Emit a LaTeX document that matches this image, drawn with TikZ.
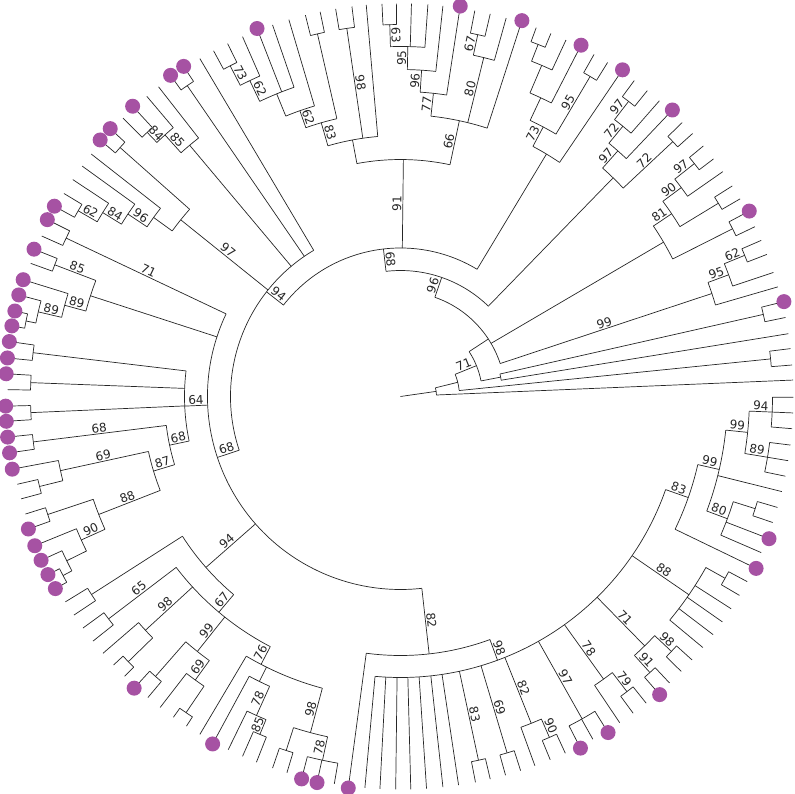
\documentclass[tikz,border=0pt]{standalone}
\usepackage{fontspec}
\setmainfont{DejaVu Sans}
\definecolor{tipdot}{HTML}{A652A3}
\newcommand{\tipr}{393}
% radial branch: angle, from r, to r
\newcommand{\rad}[3]{\draw (#1:#2pt) -- (#1:#3pt);}
% node arc: r, from angle, to angle
\newcommand{\arcr}[3]{\draw (#2:#1pt) arc[start angle=#2,end angle=#3,radius=#1pt];}
% leaf, leaf with dot
\newcommand{\lfs}[2]{\draw (#1:#2pt) -- (#1:\tipr pt);}
\newcommand{\lfp}[2]{\draw (#1:#2pt) -- (#1:\tipr pt); \fill[tipdot] (#1:395pt) circle (7.5pt);}
% branch with support value
\newcommand{\bsv}[4]{\rad{#1}{#2}{#3}
  \pgfmathsetmacro\bsrot{(#1>90 && #1<270) ? #1-180 : #1}
  \pgfmathsetmacro\bsmid{(#2+#3)/2}
  \node[bslabel,rotate=\bsrot] at (#1:\bsmid pt) {#4};}
\tikzset{bslabel/.style={anchor=south,inner sep=1pt,font=\fontsize{12}{12}\selectfont}}

\begin{document}
\begin{tikzpicture}[line width=0.7pt,color=black!85]
\useasboundingbox (-400.5pt,-396.5pt) rectangle (394.5pt,396.5pt);
% root and outgroup
\rad{8.2}{0}{36}
\arcr{36}{2.4}{13.95}
\lfs{2.4}{36}
\rad{13.95}{36}{59}
\arcr{59}{5.8}{22.1}
\rad{5.8}{59}{372}
\arcr{372}{4.6}{7.0}
\lfs{4.6}{372} \lfs{7.0}{372}
\bsv{22.1}{59}{82}{71}
\arcr{82}{10.95}{33.2}
\rad{10.95}{82}{102}
\arcr{102}{9.2}{12.75}
\lfs{9.2}{102}
\rad{12.75}{102}{372}
\arcr{372}{11.6}{13.9}
\lfs{11.6}{372} \lfp{13.9}{372}
\rad{33.2}{82}{105}
\arcr{105}{18.3}{70.9}
% 99
\bsv{18.3}{105}{328}{99}
\arcr{328}{16.2}{20.35}
\lfs{16.2}{328}
\bsv{20.35}{328}{350}{95}
\arcr{350}{18.4}{22.3}
\lfs{18.4}{350}
\bsv{22.3}{350}{372}{62}
\arcr{372}{21.2}{23.4}
\lfs{21.2}{372} \lfs{23.4}{372}
% 81
\rad{30.4}{105}{305}
\arcr{305}{26.8}{33.98}
\rad{26.8}{305}{372}
\arcr{372}{25.6}{28.0}
\lfs{25.6}{372} \lfp{28.0}{372}
\bsv{33.98}{305}{327}{81}
\arcr{327}{31.3}{36.65}
\rad{31.3}{327}{372}
\arcr{372}{30.2}{32.4}
\lfs{30.2}{372} \lfs{32.4}{372}
\bsv{36.65}{327}{350}{90}
\arcr{350}{34.9}{38.4}
\lfs{34.9}{350}
\bsv{38.4}{350}{375}{97}
\arcr{375}{37.2}{39.6}
\lfs{37.2}{375} \lfs{39.6}{375}
% 96
\bsv{70.9}{105}{126}{96}
\arcr{126}{45.8}{96.6}
\rad{45.8}{126}{305}
\arcr{305}{43.1}{48.5}
\bsv{43.1}{305}{373}{72}
\arcr{373}{42.0}{44.2}
\lfs{42.0}{373} \lfs{44.2}{373}
\bsv{48.5}{305}{328}{97}
\arcr{328}{46.5}{50.55}
\lfp{46.5}{328}
\bsv{50.55}{328}{350}{72}
\arcr{350}{48.8}{52.3}
\lfs{48.8}{350}
\bsv{52.3}{350}{373}{97}
\arcr{373}{51.1}{53.5}
\lfs{51.1}{373} \lfs{53.5}{373}
% 68
\bsv{96.6}{126}{148.5}{68}
\arcr{148.5}{58.95}{142}
\rad{58.95}{148.5}{283}
\arcr{283}{55.8}{62.1}
\lfp{55.8}{283}
\bsv{62.1}{283}{305}{73}
\arcr{305}{59.35}{64.85}
\bsv{59.35}{305}{372}{95}
\arcr{372}{58.2}{60.5}
\lfs{58.2}{372} \lfs{60.5}{372}
\rad{64.85}{305}{330}
\arcr{330}{62.8}{66.9}
\lfp{62.8}{330}
\rad{66.9}{330}{360}
\arcr{360}{65.1}{68.65}
\lfs{65.1}{360}
\rad{68.65}{360}{378}
\arcr{378}{67.5}{69.8}
\lfs{67.5}{378} \lfs{69.8}{378}
% 91
\bsv{89.3}{148.5}{237}{91}
\arcr{237}{77.95}{100.6}
\bsv{77.95}{237}{282}{66}
\arcr{282}{72.1}{83.8}
\lfp{72.1}{282}
\bsv{76.2}{282}{349}{80}
\arcr{349}{74.4}{77.95}
\lfs{74.4}{349}
\bsv{77.95}{349}{370}{67}
\arcr{370}{76.8}{79.1}
\lfs{76.8}{370} \lfs{79.1}{370}
\bsv{83.8}{282}{305}{77}
\arcr{305}{81.3}{86.3}
\lfp{81.3}{305}
\bsv{86.3}{305}{327}{96}
\arcr{327}{83.8}{88.8}
\lfs{83.8}{327}
\bsv{88.8}{327}{350}{95}
\arcr{350}{86.0}{91.65}
\lfs{86.0}{350} \lfs{88.4}{350}
\bsv{91.65}{350}{372}{63}
\arcr{372}{90.6}{92.7}
\lfs{90.6}{372} \lfs{92.7}{372}
\rad{100.6}{237}{261}
\arcr{261}{95.0}{106.15}
\lfs{95.0}{261}
\bsv{98.3}{261}{372}{98}
\arcr{372}{97.1}{99.5}
\lfs{97.1}{372} \lfs{99.5}{372}
\bsv{106.15}{261}{285}{83}
\arcr{285}{102.9}{109.4}
\rad{102.9}{285}{372}
\arcr{372}{101.8}{104.0}
\lfs{101.8}{372} \lfs{104.0}{372}
\bsv{109.4}{285}{303}{62}
\arcr{303}{106.5}{112.25}
\lfs{106.5}{303}
\rad{112.25}{303}{327}
\arcr{327}{109.0}{115.5}
\lfs{109.0}{327} \lfp{111.3}{327}
\bsv{115.5}{327}{350}{62}
\arcr{350}{113.7}{117.25}
\lfs{113.7}{350}
\bsv{117.25}{350}{372}{73}
\arcr{372}{116.1}{118.4}
\lfs{116.1}{372} \lfs{118.4}{372}
% 94
\bsv{142}{148.5}{170}{94}
\arcr{170}{120.7}{198.4}
\lfs{120.7}{170}
\rad{124.45}{170}{377}
\arcr{377}{123.3}{125.6}
\lfp{123.3}{377} \lfp{125.6}{377}
\rad{130}{170}{328}
\arcr{328}{128.0}{132}
\lfs{128.0}{328}
\bsv{132}{328}{352}{85}
\arcr{352}{130.2}{133.8}
\lfs{130.2}{352}
\bsv{133.8}{352}{366}{84}
\arcr{366}{132.7}{134.9}
\lfp{132.7}{366} \lfs{134.9}{366}
\bsv{141.2}{170}{282}{97}
\arcr{282}{138.4}{144.05}
\rad{138.4}{282}{375}
\arcr{375}{137.3}{139.5}
\lfp{137.3}{375} \lfp{139.5}{375}
\rad{144.05}{282}{305}
\arcr{305}{141.9}{146.2}
\lfs{141.9}{305}
\bsv{146.2}{305}{328}{96}
\arcr{328}{144.1}{148.3}
\lfs{144.1}{328}
\bsv{148.3}{328}{350}{84}
\arcr{350}{146.5}{150.05}
\lfs{146.5}{350}
\bsv{150.05}{350}{372}{62}
\arcr{372}{148.9}{151.2}
\lfs{148.9}{372} \lfp{151.2}{372}
% 68 left
\bsv{198.4}{170}{193}{68}
\arcr{193}{154.65}{276.35}
\bsv{154.65}{193}{370}{71}
\arcr{370}{153.4}{155.9}
\lfp{153.4}{370} \lfs{155.9}{370}
\rad{162}{193}{326}
\arcr{326}{159.15}{164.8}
\bsv{159.15}{326}{370}{85}
\arcr{370}{158.1}{160.2}
\lfp{158.1}{370} \lfs{160.2}{370}
\bsv{164.8}{326}{348}{89}
\arcr{348}{162.8}{166.85}
\lfp{162.8}{348}
\bsv{166.85}{348}{372}{89}
\arcr{372}{165.1}{168.6}
\lfp{165.1}{372}
\rad{168.6}{372}{382}
\arcr{382}{167.5}{169.7}
\lfp{167.5}{382} \lfp{169.7}{382}
% 64
\bsv{182.55}{193}{216}{64}
\arcr{216}{173.2}{191.9}
\rad{173.2}{216}{370}
\arcr{370}{172.0}{174.4}
\lfp{172.0}{370} \lfp{174.4}{370}
\rad{177.85}{216}{370}
\arcr{370}{176.7}{179.0}
\lfp{176.7}{370} \lfs{179.0}{370}
\rad{182.5}{216}{370}
\arcr{370}{181.4}{183.6}
\lfp{181.4}{370} \lfp{183.6}{370}
\bsv{191.9}{216}{236}{68}
\arcr{236}{187.05}{196.8}
\bsv{187.05}{236}{370}{68}
\arcr{370}{185.9}{188.2}
\lfp{185.9}{370} \lfp{188.2}{370}
\bsv{196.8}{236}{258}{87}
\arcr{258}{192.3}{201.35}
\bsv{192.3}{258}{348}{69}
\arcr{348}{190.6}{194.0}
\lfp{190.6}{348}
\rad{194.0}{348}{372}
\arcr{372}{192.9}{195.1}
\lfs{192.9}{372} \lfs{195.1}{372}
\bsv{201.35}{258}{324}{88}
\arcr{324}{198.5}{204.2}
\rad{198.5}{324}{372}
\arcr{372}{197.4}{199.6}
\lfs{197.4}{372} \lfp{199.6}{372}
\bsv{204.2}{324}{350}{90}
\arcr{350}{202.2}{206.2}
\lfp{202.2}{350}
\rad{206.2}{350}{372}
\arcr{372}{204.5}{207.95}
\lfp{204.5}{372}
\rad{207.95}{372}{382}
\arcr{382}{206.8}{209.1}
\lfp{206.8}{382} \lfp{209.1}{382}
% 94 lower
\bsv{221.3}{193}{259}{94}
\arcr{259}{212.65}{229.9}
\rad{212.65}{259}{367}
\arcr{367}{211.5}{213.8}
\lfs{211.5}{367} \lfs{213.8}{367}
\bsv{229.9}{259}{282}{67}
\arcr{282}{217.3}{242.5}
\bsv{217.3}{282}{367}{65}
\arcr{367}{216.1}{218.5}
\lfs{216.1}{367} \lfs{218.5}{367}
\bsv{222.5}{282}{346}{98}
\arcr{346}{220.8}{224.25}
\lfs{220.8}{346}
\rad{224.25}{346}{380}
\arcr{380}{223.1}{225.4}
\lfs{223.1}{380} \lfs{225.4}{380}
\bsv{231.45}{282}{326}{99}
\arcr{326}{228.8}{234.1}
\rad{228.8}{326}{372}
\arcr{372}{227.6}{230.0}
\lfp{227.6}{372} \lfs{230.0}{372}
\bsv{234.1}{326}{350}{69}
\arcr{350}{232.3}{235.85}
\lfs{232.3}{350}
\rad{235.85}{350}{382}
\arcr{382}{234.7}{237.0}
\lfs{234.7}{382} \lfs{237.0}{382}
\bsv{242.5}{282}{302}{76}
\arcr{302}{239.3}{255.0}
\lfs{239.3}{302}
\rad{243.65}{302}{318}
\arcr{318}{241.6}{245.7}
\lfp{241.6}{318}
\bsv{245.7}{318}{350}{78}
\arcr{350}{244.0}{247.4}
\lfs{244.0}{350}
\bsv{247.4}{350}{366}{85}
\arcr{366}{246.3}{248.5}
\lfs{246.3}{366} \lfs{248.5}{366}
\bsv{255.0}{302}{348}{98}
\arcr{348}{252.1}{257.9}
\rad{252.1}{348}{372}
\arcr{372}{251.0}{253.2}
\lfs{251.0}{372} \lfs{253.2}{372}
\bsv{257.9}{348}{372}{78}
\arcr{372}{255.5}{260.3}
\lfp{255.5}{372} \lfp{257.8}{372} \lfs{260.3}{372}
% 82
\bsv{276.35}{193}{259}{82}
\arcr{259}{262.4}{290.2}
\lfp{262.4}{259}
\bsv{290.2}{259}{281}{98}
\arcr{281}{264.8}{340.65}
\lfs{264.8}{281} \lfs{267.0}{281} \lfs{269.3}{281} \lfs{271.5}{281}
\lfs{273.8}{281} \lfs{276.2}{281} \lfs{278.5}{281}
\bsv{282.1}{281}{372}{83}
\arcr{372}{281.0}{283.2}
\lfs{281.0}{372} \lfs{283.2}{372}
\bsv{286.65}{281}{372}{69}
\arcr{372}{285.5}{287.8}
\lfs{285.5}{372} \lfs{287.8}{372}
\bsv{291.8}{281}{352}{82}
\arcr{352}{290.0}{293.6}
\lfs{290.0}{352}
\bsv{293.6}{352}{372}{90}
\arcr{372}{292.4}{294.8}
\lfs{292.4}{372} \lfs{294.8}{372}
\bsv{299.4}{281}{370}{97}
\arcr{370}{297.1}{301.7}
\lfp{297.1}{370} \lfs{299.3}{370} \lfp{301.7}{370}
\bsv{305.7}{281}{348}{78}
\arcr{348}{303.9}{307.5}
\lfs{303.9}{348}
\bsv{307.5}{348}{372}{79}
\arcr{372}{306.3}{308.7}
\lfs{306.3}{372} \lfs{308.7}{372}
\bsv{314.4}{281}{349}{71}
\arcr{349}{312.1}{316.75}
\bsv{312.1}{349}{372}{91}
\arcr{372}{311.0}{313.2}
\lfp{311.0}{372} \lfs{313.2}{372}
\bsv{316.75}{349}{372}{98}
\arcr{372}{315.6}{317.9}
\lfs{315.6}{372} \lfs{317.9}{372}
\bsv{325.5}{281}{350}{88}
\arcr{350}{320.3}{330.75}
\lfs{320.3}{350} \lfs{322.7}{350} \lfs{325.0}{350} \lfs{327.3}{350}
\rad{330.75}{350}{372}
\arcr{372}{329.6}{331.9}
\lfs{329.6}{372} \lfs{331.9}{372}
\bsv{340.65}{281}{305}{83}
\arcr{305}{334.2}{347.1}
\lfp{334.2}{305}
\bsv{347.1}{305}{327}{99}
\arcr{327}{339.5}{354.1}
\bsv{339.5}{327}{349}{80}
\arcr{349}{336.6}{342.45}
\lfs{336.6}{349} \lfp{338.9}{349}
\rad{342.45}{349}{372}
\arcr{372}{341.3}{343.6}
\lfs{341.3}{372} \lfs{343.6}{372}
\lfs{346.0}{327}
\bsv{354.1}{327}{349}{99}
\arcr{349}{350.6}{357.6}
\bsv{350.6}{349}{372}{89}
\arcr{372}{348.3}{352.9}
\lfs{348.3}{372} \lfs{350.6}{372} \lfs{352.9}{372}
\bsv{357.6}{349}{372}{94}
\arcr{372}{355.3}{359.9}
\lfs{355.3}{372} \lfs{357.6}{372} \lfs{359.9}{372}
\end{tikzpicture}
\end{document}
